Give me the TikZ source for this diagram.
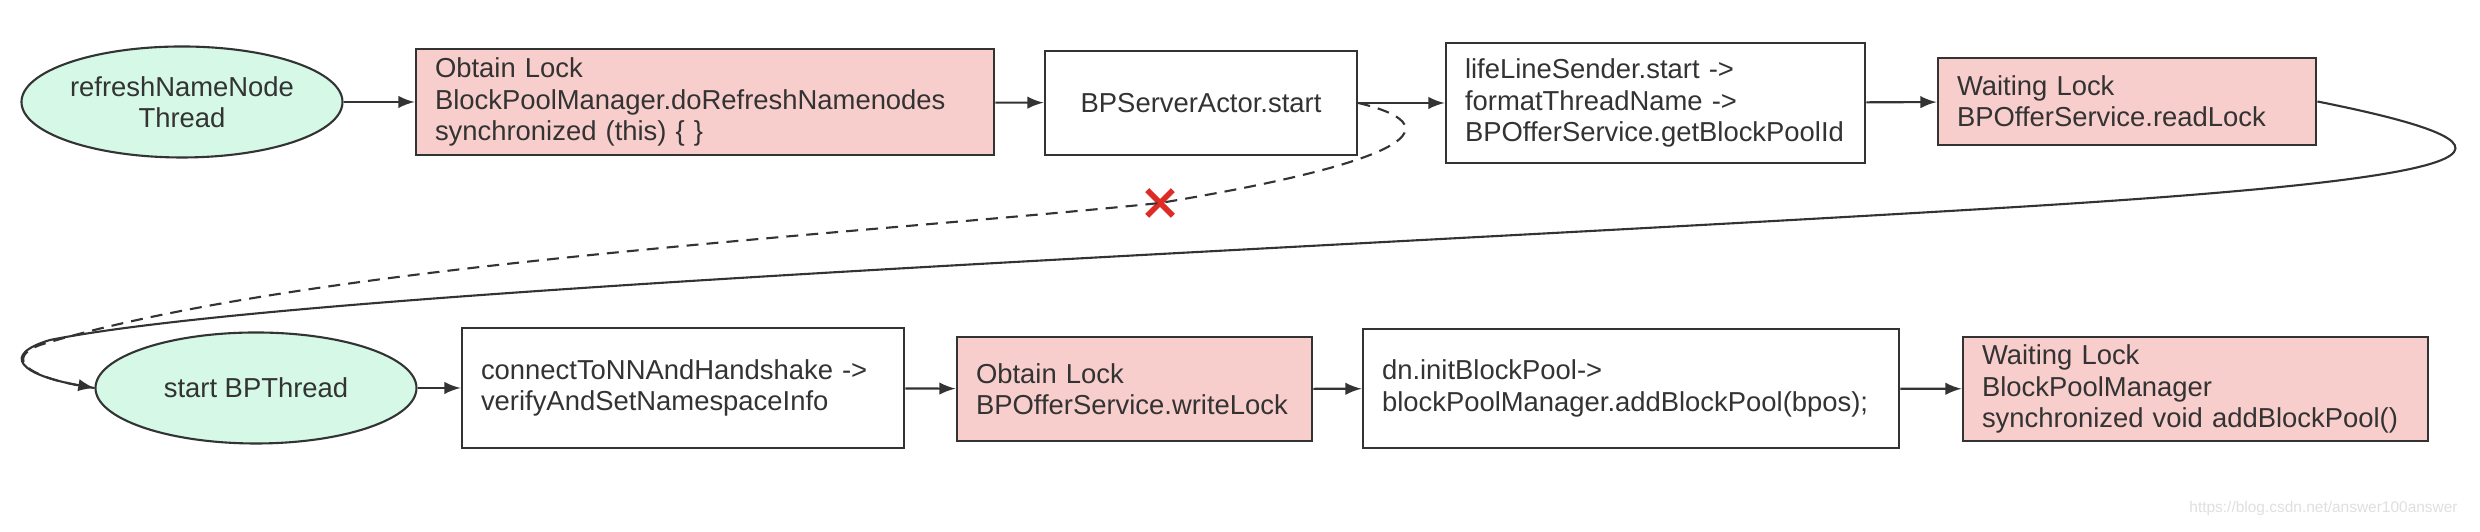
\documentclass[tikz,border=0pt]{standalone}
\usepackage{fontspec}
\setmainfont{Liberation Sans}
\usetikzlibrary{shapes.geometric,shapes.misc}
\definecolor{linegray}{HTML}{333333}
\definecolor{lockpink}{HTML}{F8CECC}
\definecolor{threadgreen}{HTML}{D5F9E6}
\definecolor{crossred}{HTML}{DD2C23}
\tikzset{
  threadnode/.style={ellipse, draw=linegray, line width=0.6pt, fill=threadgreen,
    align=center, inner sep=0pt, minimum width=3.21cm, minimum height=1.11cm},
  stepbox/.style={draw=linegray, line width=0.8pt, fill=white, align=left,
    inner xsep=0.19cm, inner ysep=0pt},
  lockbox/.style={stepbox, fill=lockpink},
  flow/.style={draw=linegray, line width=0.6pt, -latex},
}

\begin{document}
\begin{tikzpicture}[font=\fontsize{7.8}{8.9}\selectfont, text=linegray]
      \useasboundingbox (0,0) rectangle (24.8,5.32);
      % first thread
      \node[threadnode] at (1.82,4.30) (refresh) {refreshNameNode\\Thread};
      \node[lockbox, text width=5.40cm, minimum height=1.06cm] at (7.05,4.30) (obtainBPM)
        {Obtain Lock\\BlockPoolManager.doRefreshNamenodes\\synchronized (this) \{ \}};
      \node[stepbox, text width=2.74cm, minimum height=1.04cm, align=center] at (12.01,4.29) (actorStart)
        {BPServerActor.start};
      \node[stepbox, text width=3.81cm, minimum height=1.20cm] at (16.555,4.29) (lifeLine)
        {lifeLineSender.start ->\\formatThreadName ->\\BPOfferService.getBlockPoolId};
      \node[lockbox, text width=3.40cm, minimum height=0.87cm] at (21.27,4.305) (waitRead)
        {Waiting Lock\\BPOfferService.readLock};
      % second thread
      \node[threadnode] at (2.56,1.44) (bpThread) {start BPThread};
      \node[stepbox, text width=4.04cm, minimum height=1.20cm] at (6.83,1.44) (handshake)
        {connectToNNAndHandshake ->\\verifyAndSetNamespaceInfo};
      \node[lockbox, text width=3.17cm, minimum height=1.04cm] at (11.345,1.43) (obtainWrite)
        {Obtain Lock\\BPOfferService.writeLock};
      \node[stepbox, text width=4.98cm, minimum height=1.19cm] at (16.31,1.435) (initPool)
        {dn.initBlockPool->\\blockPoolManager.addBlockPool(bpos);};
      \node[lockbox, text width=4.27cm, minimum height=1.04cm] at (21.955,1.43) (waitBPM)
        {Waiting Lock\\BlockPoolManager\\synchronized void addBlockPool()};
      \node[cross out, draw=crossred, line width=1.6pt, minimum size=0.2cm, inner sep=0pt]
        at (11.60,3.29) (xmark) {};
      \node[text=gray!25, font=\fontsize{4.4}{5}\selectfont, anchor=east] at (24.70,0.23) (mark)
        {https://blog.csdn.net/answer100answer};
      \draw[flow] (refresh) -- (obtainBPM);
      \draw[flow] (obtainBPM) -- (actorStart);
      \draw[flow] (actorStart) -- (lifeLine);
      \draw[flow] (lifeLine) -- (waitRead);
      \draw[flow] (waitRead.east) .. controls (25.60,3.82) and (25.00,3.54) .. (20.00,3.24)
        .. controls (13.00,2.82) and (3.00,2.42) .. (0.50,1.92)
        .. controls (0.00,1.77) and (0.20,1.57) .. (bpThread.west);
      \draw[draw=linegray, line width=0.6pt, dash pattern=on 3.4pt off 2.3pt]
        (actorStart.east) .. controls (14.50,4.07) and (14.20,3.72) .. (xmark.center)
        .. controls (8.50,2.97) and (3.00,2.67) .. (0.40,1.87)
        .. controls (0.05,1.74) and (0.25,1.54) .. (bpThread.west);
      \draw[flow] (bpThread) -- (handshake);
      \draw[flow] (handshake) -- (obtainWrite);
      \draw[flow] (obtainWrite) -- (initPool);
      \draw[flow] (initPool) -- (waitBPM);
    \end{tikzpicture}
\end{document}
